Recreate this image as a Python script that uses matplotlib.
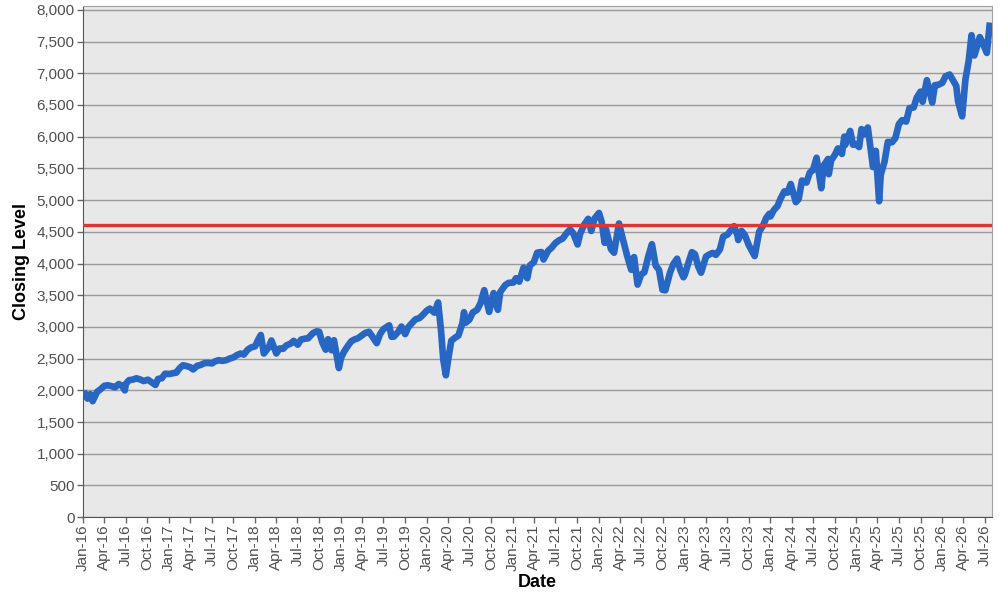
import matplotlib
matplotlib.use("Agg")
import matplotlib.pyplot as plt
import matplotlib.dates as mdates
import matplotlib.ticker as mticker
import pandas as pd

# closing levels (about two points per month)
dates = [
    "2016-01-04", "2016-01-20", "2016-02-01", "2016-02-11", "2016-03-01", "2016-03-15",
    "2016-04-01", "2016-04-15", "2016-05-02", "2016-05-16", "2016-06-01", "2016-06-15",
    "2016-06-27", "2016-07-01", "2016-07-15", "2016-08-01", "2016-08-15", "2016-09-01",
    "2016-09-15", "2016-10-03", "2016-10-17", "2016-11-04", "2016-11-15", "2016-12-01",
    "2016-12-15",
    "2017-01-03", "2017-01-17", "2017-02-01", "2017-02-15", "2017-03-01", "2017-03-15",
    "2017-04-03", "2017-04-13", "2017-05-01", "2017-05-15", "2017-06-01", "2017-06-15",
    "2017-07-03", "2017-07-17", "2017-08-01", "2017-08-15", "2017-09-01", "2017-09-15",
    "2017-10-02", "2017-10-16", "2017-11-01", "2017-11-15", "2017-12-01", "2017-12-15",
    "2018-01-02", "2018-01-15", "2018-01-26", "2018-02-08", "2018-03-01", "2018-03-12",
    "2018-04-02", "2018-04-16", "2018-05-01", "2018-05-15", "2018-06-01", "2018-06-15",
    "2018-07-02", "2018-07-16", "2018-08-01", "2018-08-15", "2018-09-04", "2018-09-20",
    "2018-10-01", "2018-10-15", "2018-10-29", "2018-11-08", "2018-11-23", "2018-12-03",
    "2018-12-24",
    "2019-01-02", "2019-01-15", "2019-02-01", "2019-02-15", "2019-03-01", "2019-03-15",
    "2019-04-01", "2019-04-15", "2019-05-01", "2019-05-15", "2019-06-03", "2019-06-17",
    "2019-07-01", "2019-07-26", "2019-08-05", "2019-08-15", "2019-09-03", "2019-09-16",
    "2019-10-02", "2019-10-15", "2019-11-01", "2019-11-15", "2019-12-02", "2019-12-16",
    "2020-01-02", "2020-01-15", "2020-02-03", "2020-02-19", "2020-03-02", "2020-03-12",
    "2020-03-23", "2020-04-01", "2020-04-15", "2020-05-01", "2020-05-15", "2020-06-01",
    "2020-06-08", "2020-06-15", "2020-07-01", "2020-07-15", "2020-08-03", "2020-08-17",
    "2020-09-02", "2020-09-23", "2020-10-12", "2020-10-30", "2020-11-09", "2020-11-16",
    "2020-12-01", "2020-12-15",
    "2021-01-04", "2021-01-15", "2021-01-29", "2021-02-16", "2021-03-04", "2021-03-15",
    "2021-04-01", "2021-04-15", "2021-05-03", "2021-05-12", "2021-06-01", "2021-06-15",
    "2021-07-01", "2021-07-15", "2021-08-02", "2021-08-16", "2021-09-02", "2021-09-15",
    "2021-10-04", "2021-10-15", "2021-11-01", "2021-11-18", "2021-12-01", "2021-12-15",
    "2022-01-03", "2022-01-14", "2022-01-27", "2022-02-01", "2022-02-23", "2022-03-08",
    "2022-03-29", "2022-04-14", "2022-05-02", "2022-05-20", "2022-06-01", "2022-06-16",
    "2022-07-01", "2022-07-15", "2022-08-01", "2022-08-16", "2022-09-01", "2022-09-15",
    "2022-09-30", "2022-10-12", "2022-11-01", "2022-11-15", "2022-12-01", "2022-12-15",
    "2022-12-28",
    "2023-01-03", "2023-01-17", "2023-02-02", "2023-02-15", "2023-03-01", "2023-03-13",
    "2023-04-03", "2023-04-14", "2023-05-01", "2023-05-15", "2023-06-01", "2023-06-15",
    "2023-07-03", "2023-07-31", "2023-08-15", "2023-08-18", "2023-09-01", "2023-09-15",
    "2023-10-02", "2023-10-27", "2023-11-15", "2023-12-01", "2023-12-15", "2023-12-28",
    "2024-01-02", "2024-01-16", "2024-02-01", "2024-02-15", "2024-03-01", "2024-03-15",
    "2024-03-28", "2024-04-19", "2024-05-01", "2024-05-15", "2024-06-03", "2024-06-17",
    "2024-07-01", "2024-07-16", "2024-08-05", "2024-08-15", "2024-09-03", "2024-09-06",
    "2024-09-16", "2024-10-01", "2024-10-15", "2024-11-01", "2024-11-11", "2024-11-15",
    "2024-12-06", "2024-12-18", "2024-12-31",
    "2025-01-13", "2025-01-23", "2025-02-03", "2025-02-19", "2025-03-13", "2025-03-25",
    "2025-04-08", "2025-04-15", "2025-05-01", "2025-05-15", "2025-06-02", "2025-06-16",
    "2025-07-01", "2025-07-15", "2025-08-01", "2025-08-15", "2025-09-02", "2025-09-15",
    "2025-10-01", "2025-10-10", "2025-10-28", "2025-11-20", "2025-12-01", "2025-12-15",
    "2026-01-02", "2026-01-15", "2026-02-02", "2026-02-16", "2026-03-02", "2026-03-10",
    "2026-03-27", "2026-04-10", "2026-04-24", "2026-05-06", "2026-05-18", "2026-06-01",
    "2026-06-10", "2026-06-22", "2026-07-10", "2026-07-23",
]
closing = [
    1990, 1870, 1940, 1829, 1978, 2015,
    2072, 2080, 2065, 2047, 2099, 2071,
    2000, 2102, 2161, 2170, 2190, 2170,
    2147, 2168, 2132, 2085, 2180, 2191,
    2262,
    2258, 2270, 2280, 2350, 2395, 2385,
    2362, 2330, 2388, 2400, 2430, 2433,
    2425, 2460, 2476, 2465, 2476, 2500,
    2520, 2555, 2580, 2565, 2640, 2675,
    2695, 2800, 2873, 2581, 2680, 2786,
    2582, 2660, 2655, 2710, 2735, 2780,
    2720, 2800, 2815, 2820, 2900, 2930,
    2924, 2750, 2641, 2806, 2632, 2790,
    2351,
    2510, 2610, 2706, 2775, 2803, 2822,
    2867, 2905, 2923, 2850, 2744, 2886,
    2964, 3025, 2844, 2848, 2926, 3006,
    2887, 2995, 3066, 3120, 3140, 3190,
    3258, 3289, 3225, 3386, 2954, 2480,
    2237, 2470, 2783, 2830, 2863, 3055,
    3232, 3066, 3115, 3226, 3271, 3372,
    3580, 3237, 3534, 3270, 3550, 3585,
    3662, 3695,
    3700, 3768, 3714, 3934, 3768, 3968,
    4020, 4170, 4181, 4063, 4202, 4246,
    4320, 4360, 4395, 4468, 4537, 4480,
    4300, 4471, 4613, 4704, 4513, 4709,
    4797, 4662, 4326, 4546, 4225, 4170,
    4631, 4392, 4131, 3901, 4101, 3667,
    3825, 3863, 4118, 4305, 3966, 3901,
    3585, 3577, 3856, 3991, 4076, 3895,
    3783,
    3824, 3999, 4179, 4147, 3951, 3855,
    4109, 4137, 4167, 4136, 4221, 4425,
    4455, 4589, 4437, 4370, 4515, 4450,
    4288, 4117, 4502, 4594, 4719, 4783,
    4742, 4840, 4906, 5030, 5137, 5117,
    5254, 4967, 5018, 5308, 5277, 5431,
    5475, 5667, 5186, 5543, 5648, 5408,
    5626, 5708, 5815, 5728, 6001, 5870,
    6090, 5872, 5882,
    5836, 6119, 6040, 6144, 5521, 5776,
    4982, 5400, 5604, 5917, 5912, 5977,
    6198, 6260, 6238, 6450, 6460, 6615,
    6710, 6550, 6890, 6538, 6812, 6816,
    6850, 6950, 6980, 6890, 6800, 6550,
    6320, 6900, 7200, 7600, 7280, 7450,
    7570, 7480, 7320, 7800,
]
threshold = 4600

series = pd.Series(closing, index=pd.to_datetime(dates))

fig = plt.figure(figsize=(10, 6), dpi=100)
ax = fig.add_axes([0.083, 0.138, 0.909, 0.852])
ax.set_facecolor("#e8e8e8")

# thick blue closing line plus the red reference level
ax.plot(series.index, series.values, color="#2866c4", linewidth=4.8,
        solid_joinstyle="round", solid_capstyle="butt", zorder=3)
ax.axhline(threshold, color="#e03535", linewidth=2.4, zorder=4)

ax.set_ylim(0, 8060)
ax.set_xlim(pd.Timestamp("2016-01-01"), pd.Timestamp("2026-08-01"))
ax.yaxis.set_major_locator(mticker.MultipleLocator(500))
ax.yaxis.set_major_formatter(mticker.StrMethodFormatter("{x:,.0f}"))
ax.xaxis.set_major_locator(mdates.MonthLocator(bymonth=[1, 4, 7, 10]))
ax.xaxis.set_major_formatter(mdates.DateFormatter("%b-%y"))

ax.grid(axis="y", color="#9a9a9a", linewidth=1.0, zorder=1)
ax.set_axisbelow(True)

for lbl in ax.get_xticklabels():
    lbl.set_rotation(90)
ax.tick_params(axis="both", labelsize=11, labelcolor="#505050", color="#666666",
               length=4, width=1, pad=2)
ax.tick_params(axis="x", pad=1)
for s in ("left", "bottom"):
    ax.spines[s].set_color("#555555")
for s in ("top", "right"):
    ax.spines[s].set_color("#a0a0a0")

ax.set_ylabel("Closing Level", fontsize=13, fontweight="bold", labelpad=5)
ax.set_xlabel("Date", fontsize=13, fontweight="bold", labelpad=2)

for t in ax.get_xticklabels() + ax.get_yticklabels() + [ax.xaxis.label, ax.yaxis.label]:
    t.set_family(["Liberation Sans", "DejaVu Sans"])

fig.savefig("out.png", dpi=100)
